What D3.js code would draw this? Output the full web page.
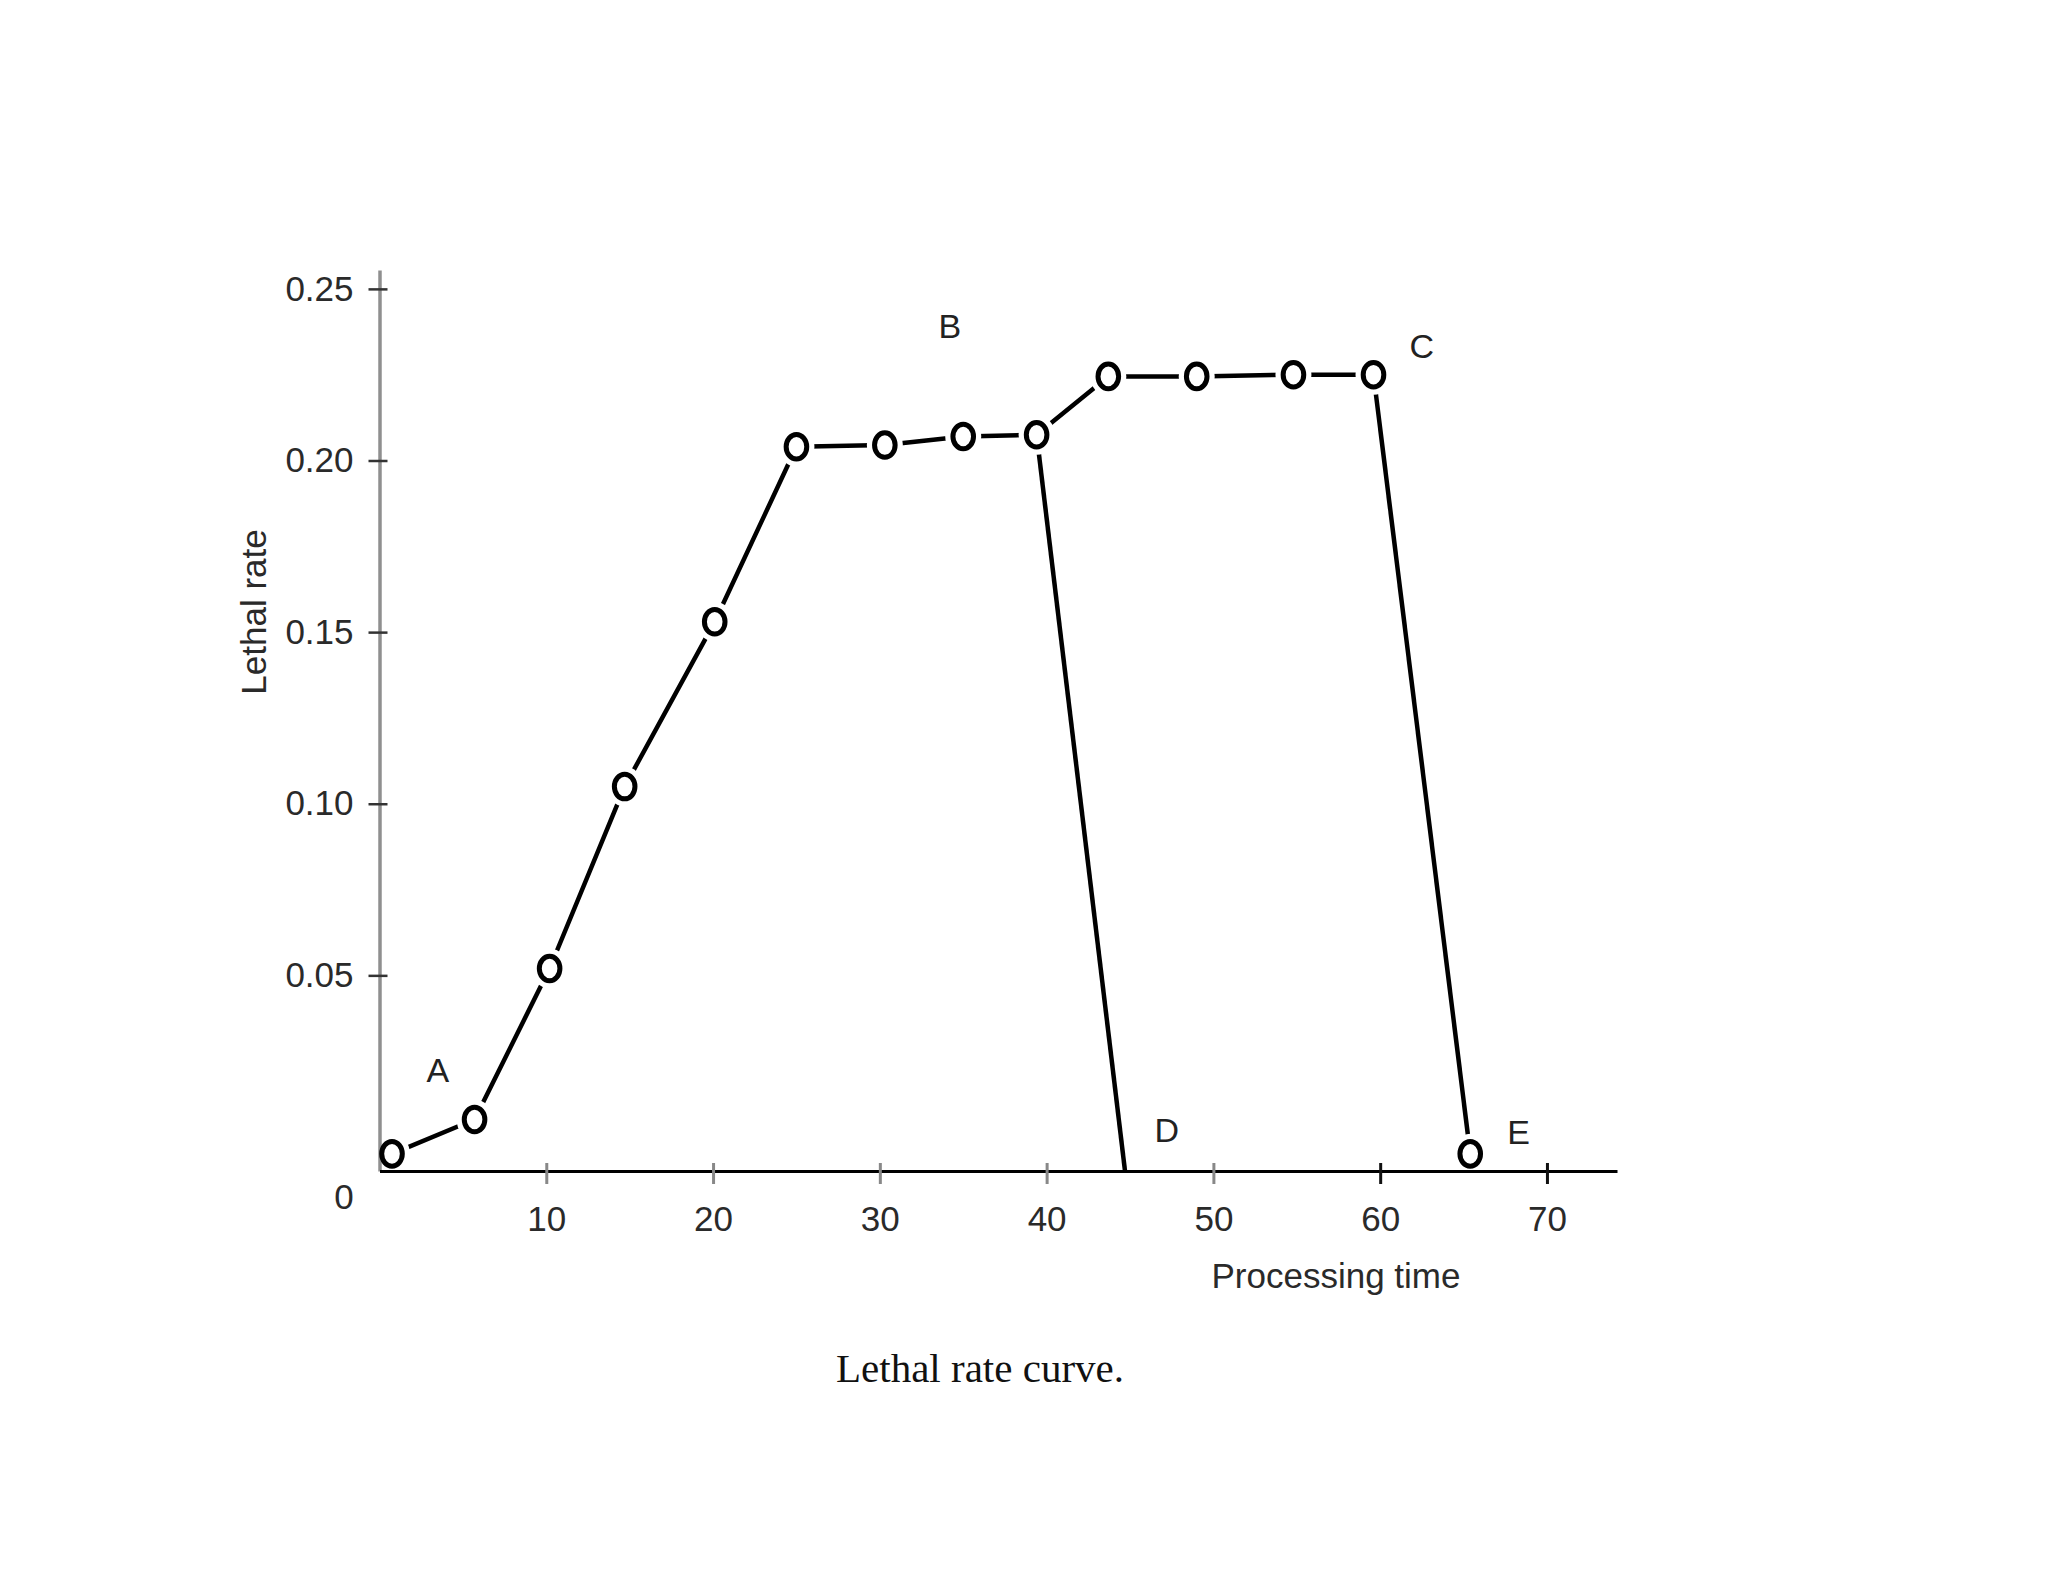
<!DOCTYPE html>
<html>
<head>
<meta charset="utf-8">
<script src="https://cdn.jsdelivr.net/npm/d3@7"></script>
<style>
  body { margin: 0; background: #fff; }
</style>
</head>
<body>
<div id="viz"></div>
<script>
const width = 2048;
const height = 1582;
const sans = '"Liberation Sans", Arial, sans-serif';
const serif = '"Liberation Serif", "Times New Roman", serif';

// heating / holding curve (time, lethal rate)
const times = [0.75, 5.7, 10.2, 14.7, 20.1, 25.0, 30.3, 35.0, 39.4, 43.7, 49.0, 54.8, 59.6];
const rates = [-0.002, 0.008, 0.052, 0.105, 0.153, 0.204, 0.2045, 0.207, 0.2075, 0.2245, 0.2245, 0.225, 0.225];

// cooling lines: from end of hold to D (on axis) and to E
const coolD = [[39.4, 0.2075], [44.7, -0.007]];
const coolE = [[59.6, 0.225], [65.4, -0.002]];

const xTicks = [10, 20, 30, 40, 50, 60, 70];
const yTicks = [0.05, 0.10, 0.15, 0.20, 0.25];

const pointLabels = [
    { t: 'A', x: 3.5, y: 0.0225 },
    { t: 'B', x: 34.2, y: 0.2392 },
    { t: 'C', x: 62.5, y: 0.2335 },
    { t: 'D', x: 47.2, y: 0.005 },
    { t: 'E', x: 68.3, y: 0.0043 }
];

const x = d3.scaleLinear().domain([0, 74.2]).range([379.5, 1617]);
const y = d3.scaleLinear().domain([-0.007, 0.2555]).range([1171, 270]);

const svg = d3.select('#viz')
    .append('svg')
        .attr('width', width)
        .attr('height', height)
        .attr('viewBox', [0, 0, width, height]);

const line = d3.line().x(d => x(d[0])).y(d => y(d[1]));
const pts = times.map((t, i) => [t, rates[i]]);
const ptsAll = pts.concat([coolE[1]]);

// lines
[pts, coolD, coolE].forEach(p => {
    svg.append('path')
        .attr('d', line(p))
        .attr('fill', 'none')
        .attr('stroke', '#000')
        .attr('stroke-width', 4.5)
        .attr('stroke-linejoin', 'round');
});

// white halos so the line stops short of each marker
svg.append('g').selectAll('ellipse')
    .data(ptsAll)
    .join('ellipse')
        .attr('cx', d => x(d[0]))
        .attr('cy', d => y(d[1]))
        .attr('rx', 18)
        .attr('ry', 20)
        .attr('fill', '#fff');

// axes
const yAxis = svg.append('g')
    .attr('transform', `translate(${x(0)},0)`)
    .call(d3.axisLeft(y).tickValues(yTicks).tickFormat(d3.format('.2f')).tickSize(11).tickSizeOuter(0).tickPadding(15));
yAxis.select('.domain').attr('stroke', '#8f8f8f').attr('stroke-width', 3.5);
yAxis.selectAll('.tick line').attr('x1', 8).attr('x2', -11).attr('stroke', '#333').attr('stroke-width', 2.5);
yAxis.selectAll('.tick text').attr('font-size', 35).attr('fill', '#2a2a2a').attr('font-family', sans);

const xAxis = svg.append('g')
    .attr('transform', `translate(0,${y(-0.007)})`)
    .call(d3.axisBottom(x).tickValues(xTicks).tickSize(13).tickSizeOuter(0).tickPadding(22));
xAxis.select('.domain').attr('stroke', '#000').attr('stroke-width', 3);
xAxis.selectAll('.tick line').attr('y1', -8).attr('y2', 13).attr('stroke', d => d >= 60 ? '#111' : '#888').attr('stroke-width', 3);
xAxis.selectAll('.tick text').attr('font-size', 35).attr('fill', '#2a2a2a').attr('font-family', sans);

// origin label
svg.append('text')
    .attr('x', 344)
    .attr('y', 1209)
    .attr('text-anchor', 'middle')
    .attr('font-family', sans)
    .attr('font-size', 35)
    .attr('fill', '#2a2a2a')
    .text('0');

// markers drawn as "O"
svg.append('g').selectAll('ellipse')
    .data(ptsAll)
    .join('ellipse')
        .attr('cx', d => x(d[0]))
        .attr('cy', d => y(d[1]))
        .attr('rx', 10.3)
        .attr('ry', 12.3)
        .attr('fill', '#fff')
        .attr('stroke', '#000')
        .attr('stroke-width', 5);

// point letters
svg.append('g').selectAll('text')
    .data(pointLabels)
    .join('text')
        .attr('x', d => x(d.x))
        .attr('y', d => y(d.y))
        .attr('dy', '0.36em')
        .attr('text-anchor', 'middle')
        .attr('font-family', sans)
        .attr('font-size', 34)
        .attr('fill', '#222')
        .text(d => d.t);

// axis titles
svg.append('text')
    .attr('x', 1336)
    .attr('y', 1288)
    .attr('text-anchor', 'middle')
    .attr('font-family', sans)
    .attr('font-size', 35)
    .attr('fill', '#2a2a2a')
    .text('Processing time');

svg.append('text')
    .attr('transform', 'translate(266,612) rotate(-90)')
    .attr('text-anchor', 'middle')
    .attr('font-family', sans)
    .attr('font-size', 35)
    .attr('fill', '#2a2a2a')
    .text('Lethal rate');

// caption
svg.append('text')
    .attr('x', 980)
    .attr('y', 1382)
    .attr('text-anchor', 'middle')
    .attr('font-family', serif)
    .attr('font-size', 41)
    .attr('fill', '#111')
    .text('Lethal rate curve.');
</script>
</body>
</html>
